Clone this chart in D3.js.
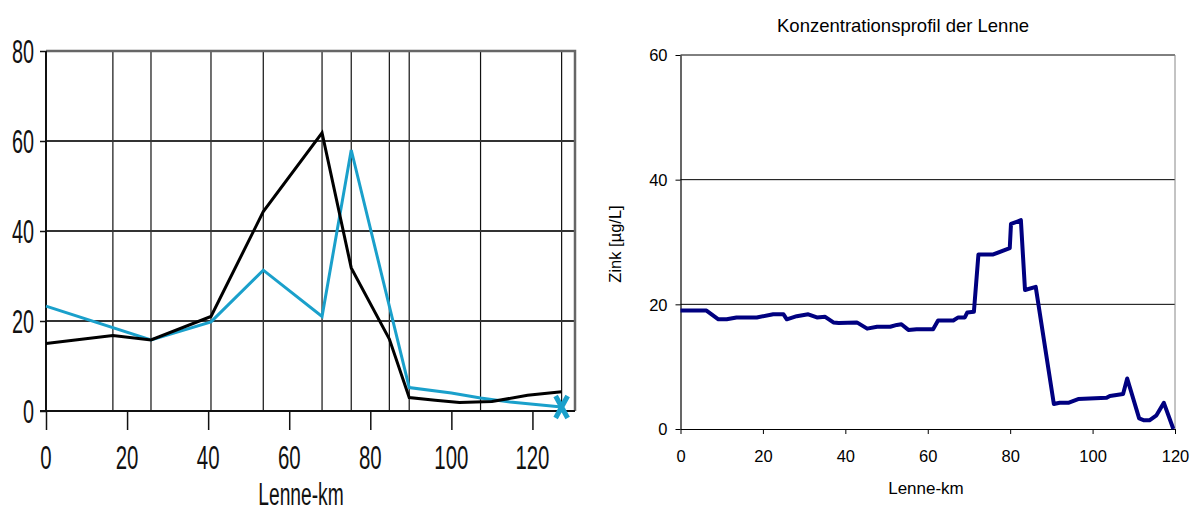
<!DOCTYPE html>
<html>
<head>
<meta charset="utf-8">
<script src="https://cdn.jsdelivr.net/npm/d3@7"></script>
<style>
  body { margin: 0; background: #fff; }
  svg { display: block; }
</style>
</head>
<body>
<svg width="1196" height="513"></svg>
<script>
// left chart: stations (vertical lines) and two profiles
var stations = [16.5, 25.9, 40.7, 53.6, 68.1, 75.3, 84.7, 89.6, 107.2, 127.2];
var blackKm  = [0, 16.5, 25.9, 40.7, 53.6, 68.1, 75.3, 84.7, 89.6, 96, 102, 110, 118.8, 127.2];
var blackVal = [15, 16.8, 15.8, 21, 44.3, 61.8, 31.8, 16.0, 3.0, 2.4, 1.9, 2.1, 3.5, 4.3];
var blueKm   = [0, 25.9, 40.7, 53.6, 68.1, 75.3, 89.6, 100, 107.2, 114.5, 127.2];
var blueVal  = [23.3, 15.8, 19.8, 31.3, 21, 58, 5.2, 4.0, 2.9, 2.0, 0.9];
var leftYTicks = [0, 20, 40, 60, 80];
var leftXTicks = [0, 20, 40, 60, 80, 100, 120];

// right chart: zinc profile
var zinkKm  = [0, 6.3, 9.2, 11.2, 13.6, 18.5, 22.5, 25, 25.8, 28.2, 31, 33.1, 35.1, 37.1, 38.4, 42.8,
               45.3, 47.7, 50.9, 52.5, 53.6, 55.3, 57.3, 61.3, 62.5, 66.2, 67.4, 69, 69.6, 71.2, 72.3,
               75.9, 79.9, 80.2, 82.6, 83.6, 86.2, 90.6, 92, 94.1, 96.5, 103.4, 104.2, 107.4, 108.4,
               111.3, 112.5, 113.8, 115.5, 117.3, 119.6];
var zinkVal = [19.0, 19.0, 17.6, 17.6, 17.9, 17.9, 18.4, 18.4, 17.6, 18.1, 18.4, 17.9, 18.0, 17.1, 17.0, 17.1,
               16.1, 16.4, 16.4, 16.7, 16.8, 15.9, 16.0, 16.0, 17.4, 17.4, 17.9, 17.9, 18.7, 18.8, 28.0,
               28.0, 29.0, 32.9, 33.5, 22.3, 22.8, 4.0, 4.2, 4.2, 4.8, 5.0, 5.3, 5.6, 8.1,
               1.7, 1.4, 1.4, 2.2, 4.2, 0];
var rightYTicks = [0, 20, 40, 60];
var rightXTicks = [0, 20, 40, 60, 80, 100, 120];

var svg = d3.select("svg");

// ---------- left chart ----------
var x1 = d3.scaleLinear().domain([0, 130.5]).range([46, 575]);
var y1 = d3.scaleLinear().domain([0, 80]).range([411, 51]);
var g1 = svg.append("g");
var narrow = "Liberation Sans, Arial, sans-serif";

// vertical station lines
g1.selectAll(".st").data(stations).enter().append("line")
  .attr("x1", d => x1(d)).attr("x2", d => x1(d))
  .attr("y1", y1(80)).attr("y2", y1(0))
  .attr("stroke", "#111").attr("stroke-width", 1.2);

// horizontal grid
g1.selectAll(".hg").data([20, 40, 60]).enter().append("line")
  .attr("x1", x1(0)).attr("x2", x1(130.5))
  .attr("y1", d => y1(d)).attr("y2", d => y1(d))
  .attr("stroke", "#333").attr("stroke-width", 2);

// frame top + right (grey)
g1.append("path")
  .attr("d", "M" + x1(0) + "," + y1(80) + "H" + x1(130.5) + "V" + y1(0))
  .attr("fill", "none").attr("stroke", "#666").attr("stroke-width", 2.5);

// axes
var yAx1 = g1.append("g").attr("transform", "translate(" + x1(0) + ",0)")
  .call(d3.axisLeft(y1).tickValues(leftYTicks).tickSize(6).tickSizeOuter(0));
var xAx1 = g1.append("g").attr("transform", "translate(0," + y1(0) + ")")
  .call(d3.axisBottom(x1).tickValues(leftXTicks).tickSize(19).tickSizeOuter(0));
[yAx1, xAx1].forEach(function(a) {
  a.select(".domain").attr("stroke", "#111").attr("stroke-width", 2);
  a.selectAll(".tick line").attr("stroke", "#111").attr("stroke-width", 1.5);
  a.selectAll("text").remove();
});
yAx1.select(".domain").attr("d", "M0," + y1(80) + "V" + y1(0));
xAx1.select(".domain").attr("d", "M" + (x1(0) - 6) + ",0H" + x1(130.5));

// condensed tick labels
g1.selectAll(".yl").data(leftYTicks).enter().append("text")
  .attr("transform", d => "translate(34," + (y1(d) + 11.5) + ") scale(0.6,1)")
  .attr("text-anchor", "end")
  .attr("font-family", narrow).attr("font-size", 33).attr("fill", "#111")
  .text(d => d);
g1.selectAll(".xl").data(leftXTicks).enter().append("text")
  .attr("transform", d => "translate(" + x1(d) + ",469) scale(0.6,1)")
  .attr("text-anchor", "middle")
  .attr("font-family", narrow).attr("font-size", 34).attr("fill", "#111")
  .text(d => d);
g1.append("text")
  .attr("transform", "translate(301,505) scale(0.62,1)")
  .attr("text-anchor", "middle")
  .attr("font-family", narrow).attr("font-size", 31).attr("fill", "#111")
  .text("Lenne-km");

var line1 = d3.line().x(d => x1(d[0])).y(d => y1(d[1]));
var blueData = d3.zip(blueKm, blueVal);
var blackData = d3.zip(blackKm, blackVal);
g1.append("path").datum(blueData).attr("d", line1)
  .attr("fill", "none").attr("stroke", "#1aa0cb").attr("stroke-width", 3);
g1.append("path").datum(blackData).attr("d", line1)
  .attr("fill", "none").attr("stroke", "#000").attr("stroke-width", 3);

// end marker (blue cross)
var last = blueData[blueData.length - 1];
var mx = x1(last[0]), my = y1(last[1]);
g1.append("path")
  .attr("d", "M" + (mx - 6) + "," + (my - 11) + "L" + (mx + 6) + "," + (my + 11) +
             "M" + (mx + 6) + "," + (my - 11) + "L" + (mx - 6) + "," + (my + 11))
  .attr("stroke", "#1aa0cb").attr("stroke-width", 5).attr("fill", "none");

// ---------- right chart ----------
var x2 = d3.scaleLinear().domain([0, 120]).range([680.5, 1175]);
var y2 = d3.scaleLinear().domain([0, 60]).range([429, 55]);
var g2 = svg.append("g");
var font2 = "Liberation Sans, Arial, sans-serif";

g2.selectAll(".hg").data([20, 40, 60]).enter().append("line")
  .attr("x1", x2(0)).attr("x2", x2(120))
  .attr("y1", d => y2(d)).attr("y2", d => y2(d))
  .attr("stroke", "#000").attr("stroke-width", 1);
g2.append("line")
  .attr("x1", x2(120)).attr("x2", x2(120)).attr("y1", y2(60)).attr("y2", y2(0))
  .attr("stroke", "#888").attr("stroke-width", 1);

var yAx2 = g2.append("g").attr("transform", "translate(" + x2(0) + ",0)")
  .call(d3.axisLeft(y2).tickValues(rightYTicks).tickSize(5).tickSizeOuter(0).tickPadding(8));
var xAx2 = g2.append("g").attr("transform", "translate(0," + y2(0) + ")")
  .call(d3.axisBottom(x2).tickValues(rightXTicks).tickSize(5).tickSizeOuter(0).tickPadding(16));
[yAx2, xAx2].forEach(function(a) {
  a.select(".domain").attr("stroke", "#000").attr("stroke-width", 1.2);
  a.selectAll(".tick line").attr("stroke", "#000");
  a.selectAll("text").attr("font-family", font2).attr("font-size", 16.5).attr("fill", "#000");
});
yAx2.selectAll("text").attr("dy", "0.35em");

g2.append("text")
  .attr("x", 903).attr("y", 32).attr("text-anchor", "middle")
  .attr("font-family", font2).attr("font-size", 18.5).attr("fill", "#000")
  .text("Konzentrationsprofil der Lenne");
g2.append("text")
  .attr("x", 926).attr("y", 494).attr("text-anchor", "middle")
  .attr("font-family", font2).attr("font-size", 17).attr("fill", "#000")
  .text("Lenne-km");
g2.append("text")
  .attr("transform", "translate(621,244) rotate(-90)").attr("text-anchor", "middle")
  .attr("font-family", font2).attr("font-size", 16.5).attr("fill", "#000")
  .text("Zink [µg/L]");

var line2 = d3.line().x(d => x2(d[0])).y(d => y2(d[1]));
g2.append("path").datum(d3.zip(zinkKm, zinkVal)).attr("d", line2)
  .attr("fill", "none").attr("stroke", "#000080").attr("stroke-width", 4)
  .attr("stroke-linejoin", "round");
</script>
</body>
</html>
